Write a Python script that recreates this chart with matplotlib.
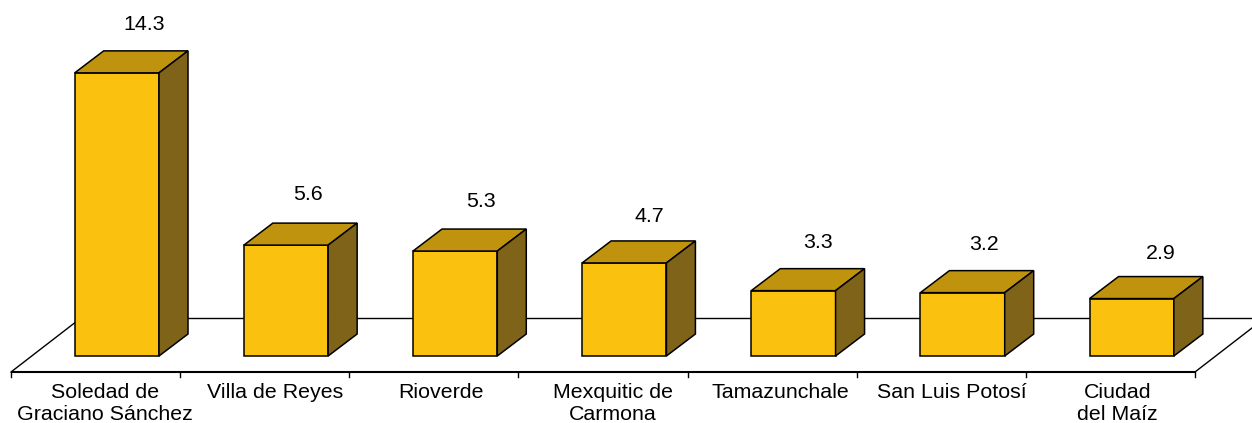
import matplotlib.pyplot as plt
from matplotlib.patches import Polygon
import matplotlib.transforms as mtrans

plt.rcParams['font.family'] = ['Liberation Sans', 'DejaVu Sans']

municipios = ['Soledad de\nGraciano Sánchez', 'Villa de Reyes', 'Rioverde', 'Mexquitic de\nCarmona',
              'Tamazunchale', 'San Luis Potosí', 'Ciudad\ndel Maíz']
valores = [14.3, 5.6, 5.3, 4.7, 3.3, 3.2, 2.9]

# hand placed labels in the original, offsets in pixels
nudge_val_x = [6, 1, 4, 4, 3, 0, 8]
nudge_val_y = [1, 4, 3, -1, 1, 1, -2]
nudge_cat_x = [9, 10, 7, 10, 8, 11, 7]

W, H = 1252, 423
cat_px = 169.14     # pixels per category
val_px = 19.8       # pixels per unit
x0_px = 11          # left end of floor
y0_px = 356         # bar base

fig = plt.figure(figsize=(W / 100, H / 100), dpi=100)
ax = fig.add_axes([0, 0, 1, 1])
ax.set_xlim(-x0_px / cat_px, (W - x0_px) / cat_px)
ax.set_ylim((y0_px - H) / val_px, y0_px / val_px)
ax.axis('off')

n = len(valores)
dx = 29 / cat_px    # depth of the boxes
dy = 22 / val_px
left = 63.7 / cat_px  # bar start inside its slot
bw = 84.3 / cat_px
front = -16 / val_px  # floor front edge
back = 38 / val_px    # floor back edge
slope = 57 / cat_px / (44 / val_px)

# floor
ax.plot([0, n], [front, front], color='black', lw=1.5, solid_capstyle='butt', zorder=1)
ax.plot([0, (back - front) * slope], [front, back], color='black', lw=1, zorder=1)
ax.plot([n, n + (back - front) * slope], [front, back], color='black', lw=1, zorder=1)
ax.plot([(back - front) * slope, n + 1], [back, back], color='black', lw=1, zorder=1)
for i in range(n + 1):
    ax.plot([i, i], [front, front - 5 / val_px], color='black', lw=1, zorder=1)

for i, v in enumerate(valores):
    l = i + left
    r = l + bw
    ax.add_patch(Polygon([(l, 0), (r, 0), (r, v), (l, v)], fc='#FBC10F', ec='black', lw=1.1, zorder=3))
    ax.add_patch(Polygon([(l, v), (r, v), (r + dx, v + dy), (l + dx, v + dy)], fc='#BF930D', ec='black', lw=1.1, zorder=3))
    ax.add_patch(Polygon([(r, 0), (r + dx, dy), (r + dx, v + dy), (r, v)], fc='#7F6318', ec='black', lw=1.1, zorder=3))

    off = mtrans.offset_copy(ax.transData, fig=fig, x=nudge_val_x[i], y=nudge_val_y[i], units='dots')
    ax.text(l + (bw + dx) / 2 + 7 / cat_px, v + dy + 25 / val_px, str(v), transform=off,
            ha='center', va='center', fontsize=15.4, color='black')

    off = mtrans.offset_copy(ax.transData, fig=fig, x=nudge_cat_x[i], y=0, units='dots')
    ax.text(i + 0.5, front - 11 / val_px, municipios[i], transform=off,
            ha='center', va='top', fontsize=15.4, color='black', linespacing=1.17)

fig.savefig('out.png', dpi=100)
